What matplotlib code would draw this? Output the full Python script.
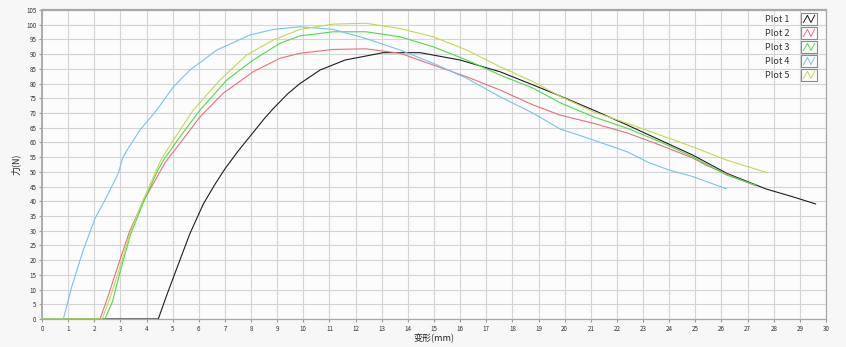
import matplotlib
matplotlib.use("Agg")
import matplotlib.pyplot as plt
from matplotlib.legend_handler import HandlerBase
from matplotlib.patches import Rectangle
from matplotlib.lines import Line2D

plt.rcParams['font.family'] = ['Noto Sans CJK SC', 'DejaVu Sans']

# data (deformation mm, force N)
x1 = [0, 4.45, 4.77, 5.15, 5.66, 6.17, 6.6, 7.0, 7.5, 8.0, 8.5, 8.85, 9.4, 9.87,
      10.64, 11.6, 13.06, 14.47, 16.0, 17.53, 18.8, 19.82, 21.1, 22.4, 23.65,
      24.9, 26.2, 27.7, 28.7, 29.6]
y1 = [0, 0, 8, 17, 29, 39, 45.5, 51, 57, 62.5, 68, 71.5, 76.5, 80,
      84.6, 88, 90.5, 90.5, 88, 84, 79.5, 75.8, 71, 65.9, 60.8,
      55.7, 49.5, 44.2, 41.6, 39.1]

x2 = [0, 2.22, 2.5, 2.98, 3.36, 3.88, 4.45, 4.7, 5.28, 6.05, 6.93, 8.08, 9.11,
      9.87, 11.14, 12.4, 13.7, 14.97, 16.25, 17.53, 18.8, 19.82, 21.1, 22.4,
      23.65, 24.9, 25.4, 26.45, 27.3]
y2 = [0, 0, 7, 20, 30, 40, 49, 53, 59.7, 68.7, 76.7, 84, 88.6,
      90.3, 91.6, 91.8, 90.3, 86.3, 82.3, 77.8, 72.7, 69.3, 66.5, 63.2,
      59.1, 54.7, 52.3, 48.3, 45.3]

x3 = [0, 2.41, 2.7, 3.05, 3.4, 3.9, 4.4, 4.65, 5.28, 6.05, 7.07, 8.08, 9.11,
      9.87, 11.14, 12.4, 13.7, 14.97, 16.25, 17.53, 18.8, 19.82, 21.1, 22.4,
      23.65, 24.9, 26.2, 27.3]
y3 = [0, 0, 6, 18, 29, 40, 50, 54, 61.9, 71, 81.2, 88, 93.7,
      96.2, 97.6, 97.6, 95.9, 92.5, 88, 82.9, 78.4, 73.5, 68.7, 64.8,
      60.2, 55.1, 48.9, 45.5]

x4 = [0, 0.82, 1.14, 1.58, 2.03, 2.41, 2.92, 3.1, 3.3, 3.75, 4.39, 5.03, 5.66,
      6.69, 7.96, 8.85, 9.87, 11.14, 12.4, 13.7, 14.97, 16.25, 17.53, 18.8,
      19.82, 21.1, 22.4, 23.2, 24.0, 24.9, 26.2]
y4 = [0, 0, 11, 23.4, 34.2, 40.4, 49.5, 55, 58, 64.2, 71, 78.9, 84.6,
      91.4, 96.5, 98.4, 99.3, 98.4, 95.3, 91.4, 86.9, 81.8, 75.5, 69.9,
      64.6, 60.8, 56.8, 53.2, 50.6, 48.4, 44.2]

x5 = [0, 2.3, 2.6, 3.0, 3.36, 3.85, 4.35, 4.55, 5.03, 5.79, 6.81, 7.83, 8.85,
      9.87, 11.14, 12.4, 13.7, 14.97, 16.25, 17.53, 18.8, 19.82, 21.1, 22.4,
      23.65, 24.9, 26.2, 27.75]
y5 = [0, 0, 7, 18, 29, 40, 50, 54, 60.8, 71, 81.2, 89.7, 94.8,
      98.4, 100.2, 100.5, 98.7, 95.9, 91.4, 85.7, 80.6, 75.7, 70.4, 66.5,
      62.5, 58.5, 54, 49.7]

series_x = [x1, x2, x3, x4, x5]
series_y = [y1, y2, y3, y4, y5]
labels = ['Plot 1', 'Plot 2', 'Plot 3', 'Plot 4', 'Plot 5']
colors = ['#1e1e1e', '#e8707e', '#4cdc4c', '#78c4e6', '#c4d850']


class BoxZigzag(HandlerBase):
    # legend swatch: small framed box with a zigzag line inside
    def create_artists(self, legend, orig_handle, xdescent, ydescent,
                       width, height, fontsize, trans):
        w, h = 11.5, 8.6
        x0 = width - w
        yc = height / 2 - ydescent
        y0 = yc - h / 2
        box = Rectangle((x0, y0), w, h, facecolor='none',
                        edgecolor='#8a8a8a', lw=0.8, transform=trans)
        zx = [x0 + w * f for f in (0.15, 0.4, 0.62, 0.85)]
        zy = [y0 + h * f for f in (0.2, 0.8, 0.2, 0.8)]
        zz = Line2D(zx, zy, color=orig_handle.get_color(), lw=0.7, transform=trans)
        return [box, zz]


fig = plt.figure(figsize=(8.46, 3.47), dpi=100, facecolor='#f7f7f7')
ax = fig.add_axes([0.0496, 0.0807, 0.9268, 0.8905])
ax.set_facecolor('#fcfcfc')

handles = []
for xs, ys, c, lab in zip(series_x, series_y, colors, labels):
    ln, = ax.plot(xs, ys, color=c, lw=0.8, label=lab, zorder=3)
    handles.append(ln)

ax.set_xlim(0, 30)
ax.set_ylim(0, 105)
ax.set_xticks(range(0, 31))
ax.set_yticks(range(0, 106, 5))
ax.grid(True, color='#d4d4d4', lw=0.8)
ax.set_axisbelow(True)
ax.tick_params(labelsize=4.5, colors='#9a9a9a', labelcolor='#333333',
               length=2.5, width=0.8, pad=1.5)
for s in ['left', 'bottom', 'right']:
    ax.spines[s].set_color('#a8a8a8')
    ax.spines[s].set_linewidth(0.9)
ax.spines['top'].set_color('#a8a8a8')
ax.spines['top'].set_linewidth(1.6)
ax.spines['left'].set_linewidth(1.3)

ax.set_xlabel('变形(mm)', fontsize=6.5, color='#222222', labelpad=1)
ax.set_ylabel('力(N)', fontsize=6.5, color='#222222', labelpad=4)

leg = ax.legend(handles=handles, loc='upper right', markerfirst=False,
                frameon=False, fontsize=6.5, handler_map={Line2D: BoxZigzag()},
                handlelength=1.8, handleheight=1.3, handletextpad=1.3,
                labelspacing=0.45, borderpad=0, borderaxespad=0,
                bbox_to_anchor=(0.9885, 0.987))
for t in leg.get_texts():
    t.set_color('#333333')

fig.savefig('out.png', dpi=100, facecolor=fig.get_facecolor())
